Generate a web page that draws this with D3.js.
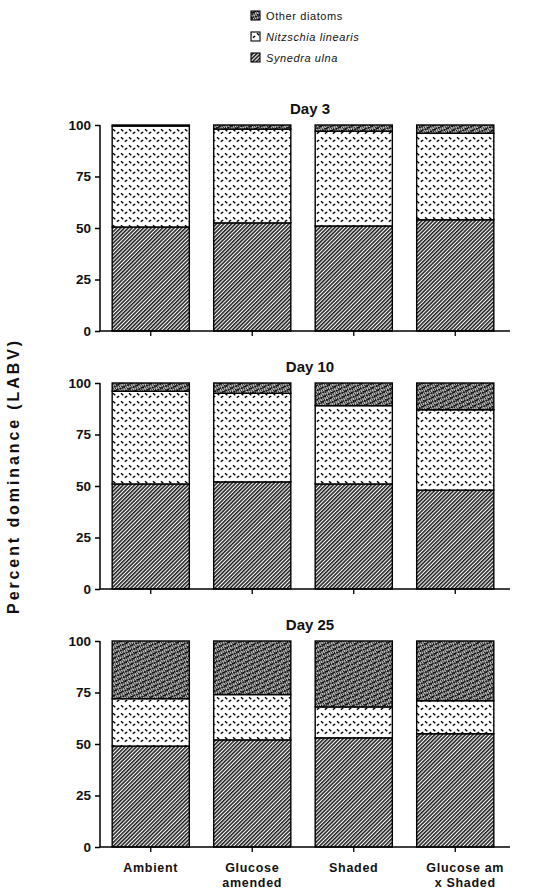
<!DOCTYPE html>
<html>
<head>
<meta charset="utf-8">
<script src="https://cdn.jsdelivr.net/npm/d3@7"></script>
<style>
  body { margin: 0; background: #fff; }
  svg { display: block; }
  text { font-family: "Liberation Sans", Arial, Helvetica, sans-serif; fill: #111; }
</style>
</head>
<body>
<svg id="chart" width="534" height="892"></svg>
<script>
// ---- data ----
const categories = ["Ambient", "Glucose amended", "Shaded", "Glucose am x Shaded"];
const categoryLines = [["Ambient"], ["Glucose", "amended"], ["Shaded"], ["Glucose am", "x Shaded"]];
const seriesNames = ["Synedra ulna", "Nitzschia linearis", "Other diatoms"];
const panelTitles = ["Day 3", "Day 10", "Day 25"];
const yTicks = [0, 25, 50, 75, 100];

const synedraDay3 = [50.5, 52.5, 51, 54];
const nitzschiaDay3 = [49, 45.5, 46, 42];
const otherDay3 = [0.5, 2, 3, 4];

const synedraDay10 = [51, 52, 51, 48];
const nitzschiaDay10 = [45, 43, 38, 39];
const otherDay10 = [4, 5, 11, 13];

const synedraDay25 = [49, 52, 53, 55];
const nitzschiaDay25 = [23, 22, 15, 16];
const otherDay25 = [28, 26, 32, 29];

const panelData = [
  [synedraDay3, nitzschiaDay3, otherDay3],
  [synedraDay10, nitzschiaDay10, otherDay10],
  [synedraDay25, nitzschiaDay25, otherDay25]
];

// ---- layout ----
const svg = d3.select("#chart");
const font = "'Liberation Sans', Arial, Helvetica, sans-serif";
const panelTops = [125, 383, 641];
const panelH = 206;
const x0 = 100, x1 = 506;

// ---- patterns ----
const defs = svg.append("defs");
// Synedra: dense diagonal hatch
const pS = defs.append("pattern").attr("id", "pat-syn")
  .attr("patternUnits", "userSpaceOnUse").attr("width", 2.7).attr("height", 2.7)
  .attr("patternTransform", "rotate(45)");
pS.append("rect").attr("width", 2.7).attr("height", 2.7).attr("fill", "#fff");
pS.append("line").attr("x1", 0.8).attr("y1", 0).attr("x2", 0.8).attr("y2", 2.7)
  .attr("stroke", "#111").attr("stroke-width", 1.5);

// Nitzschia: white with small scattered dashes on a diagonal lattice
const pN = defs.append("pattern").attr("id", "pat-nit")
  .attr("patternUnits", "userSpaceOnUse").attr("width", 8).attr("height", 8);
pN.append("rect").attr("width", 8).attr("height", 8).attr("fill", "#fff");
pN.append("path").attr("d", "M1,1.2 L3.3,3.2 M4.8,5.6 L7.2,4")
  .attr("stroke", "#000").attr("stroke-width", 1.5).attr("fill", "none");

// Other diatoms: dark mottled stipple
const pO = defs.append("pattern").attr("id", "pat-oth")
  .attr("patternUnits", "userSpaceOnUse").attr("width", 6).attr("height", 6)
  .attr("patternTransform", "rotate(20)");
pO.append("rect").attr("width", 6).attr("height", 6).attr("fill", "#c4c4c4");
pO.append("path").attr("d", "M0,0 L6,6 M3,0 L6,3 M0,3 L3,6 M6,0 L0,6 M1,4 L4,1 M2,6 L2,4")
  .attr("stroke", "#111").attr("stroke-width", 1.0).attr("fill", "none");

const fills = { "Synedra ulna": "url(#pat-syn)", "Nitzschia linearis": "url(#pat-nit)", "Other diatoms": "url(#pat-oth)" };

// ---- scales ----
const x = d3.scaleBand().domain(categories).range([x0, x1]).paddingInner(0.24).paddingOuter(0.12);

panelData.forEach((arrs, pi) => {
  const rows = categories.map((c, i) => {
    const r = { cat: c };
    seriesNames.forEach((s, si) => r[s] = arrs[si][i]);
    return r;
  });
  const stacked = d3.stack().keys(seriesNames)(rows);
  const y = d3.scaleLinear().domain([0, 100]).range([panelTops[pi] + panelH, panelTops[pi]]);
  const g = svg.append("g");

  // bars
  stacked.forEach(layer => {
    g.append("g").selectAll("rect").data(layer).join("rect")
      .attr("x", d => x(d.data.cat))
      .attr("y", d => y(d[1]))
      .attr("width", x.bandwidth())
      .attr("height", d => y(d[0]) - y(d[1]))
      .attr("fill", fills[layer.key])
      .attr("stroke", "#000").attr("stroke-width", 1.4);
  });

  // y axis
  const ya = g.append("g").attr("transform", `translate(${x0},0)`)
    .call(d3.axisLeft(y).tickValues(yTicks).tickSize(5).tickPadding(4));
  ya.select(".domain").attr("stroke", "#000").attr("stroke-width", 1.5).attr("d", `M0,${y(0)}V${y(100)}`);
  ya.selectAll(".tick line").attr("stroke", "#000").attr("stroke-width", 1.5);
  ya.selectAll(".tick text").attr("font-family", font).attr("font-size", 13.5)
    .attr("font-weight", "bold").attr("fill", "#111");

  // x axis
  const xa = g.append("g").attr("transform", `translate(0,${y(0)})`)
    .call(d3.axisBottom(x).tickSize(5).tickFormat(""));
  xa.select(".domain").attr("stroke", "#000").attr("stroke-width", 1.5).attr("d", `M${x0},0H${x1 + 4}`);
  xa.selectAll(".tick line").attr("stroke", "#000").attr("stroke-width", 1.3);

  // title
  g.append("text").attr("x", 310).attr("y", panelTops[pi] - 11)
    .attr("text-anchor", "middle").attr("font-size", 15).attr("font-weight", "bold")
    .text(panelTitles[pi]);

  // category labels on bottom panel
  if (pi === panelData.length - 1) {
    categories.forEach((c, i) => {
      const cx = x(c) + x.bandwidth() / 2;
      const t = g.append("text").attr("text-anchor", "middle")
        .attr("font-size", 12.5).attr("font-weight", "bold").attr("letter-spacing", 0.7);
      categoryLines[i].forEach((ln, li) => {
        t.append("tspan").attr("x", cx + (i === 3 ? 10 : 0)).attr("y", y(0) + 25 + li * 15).text(ln);
      });
    });
  }
});

// y label
svg.append("text")
  .attr("transform", "translate(19,476) rotate(-90)")
  .attr("text-anchor", "middle").attr("font-size", 16).attr("font-weight", "bold")
  .attr("letter-spacing", 2.9)
  .text("Percent dominance (LABV)");

// legend
const legendItems = ["Other diatoms", "Nitzschia linearis", "Synedra ulna"];
const lg = svg.append("g");
legendItems.forEach((name, i) => {
  const cy = 16 + i * 21;
  lg.append("rect").attr("x", 251).attr("y", cy - 5).attr("width", 9).attr("height", 9)
    .attr("fill", fills[name]).attr("stroke", "#000").attr("stroke-width", 1.1);
  lg.append("text").attr("x", 266).attr("y", cy + 4)
    .attr("font-size", 11).attr("letter-spacing", 0.6)
    .attr("font-style", i === 0 ? "normal" : "italic")
    .text(name);
});
</script>
</body>
</html>
